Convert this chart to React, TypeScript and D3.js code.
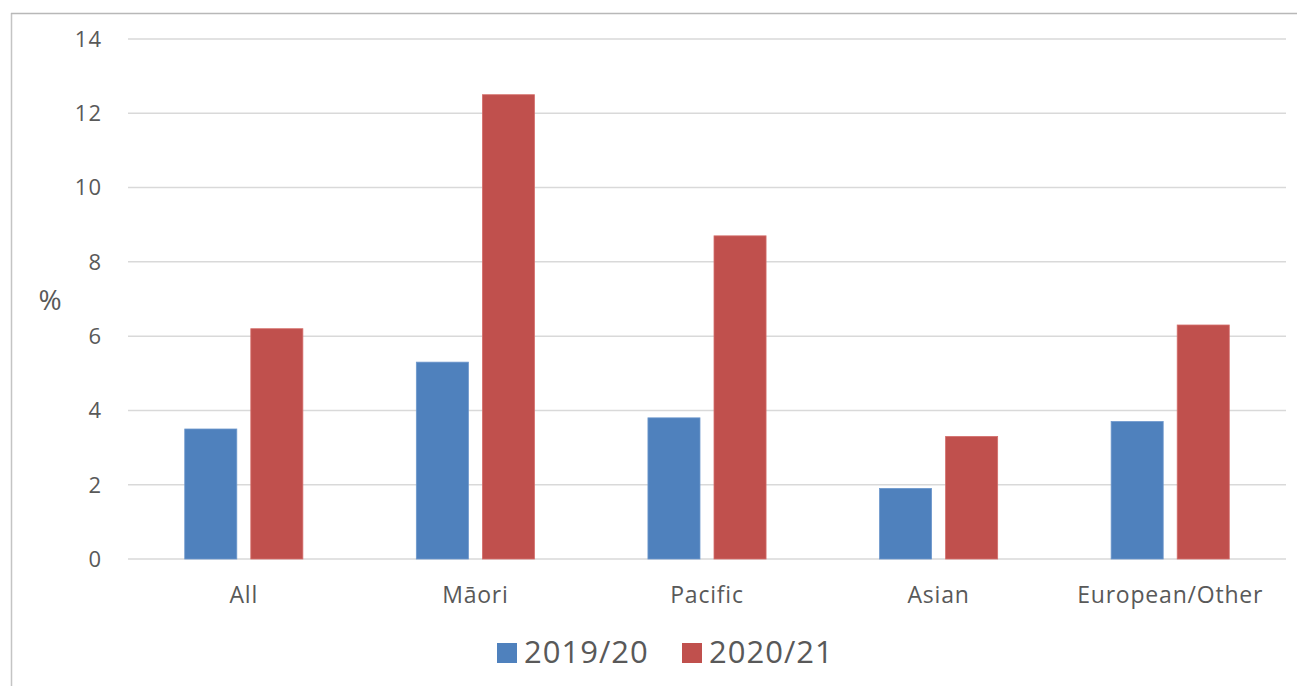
import React from "react";
import * as d3 from "d3";

const categories = ["All", "Māori", "Pacific", "Asian", "European/Other"];
const seriesNames = ["2019/20", "2020/21"];
const values2019 = [3.5, 5.3, 3.8, 1.9, 3.7];
const values2020 = [6.2, 12.5, 8.7, 3.3, 6.3];
const yTicks = [0, 2, 4, 6, 8, 10, 12, 14];
const colors = ["#4f81bd", "#c0504d"];

const W = 1297;
const H = 686;
const left = 128;
const right = 1286;
const top = 39;
const bottom = 559;
const font = "'Open Sans', 'Liberation Sans', sans-serif";

export default function App() {
  const y = d3.scaleLinear().domain([0, 14]).range([bottom, top]);
  const x0 = d3
    .scaleBand<string>()
    .domain(categories)
    .range([left, right])
    .paddingInner(0.49)
    .paddingOuter(0.245);
  const x1 = d3
    .scaleBand<string>()
    .domain(seriesNames)
    .range([0, x0.bandwidth()])
    .paddingInner(0.212);
  const series = [values2019, values2020];

  return (
    <svg
      width={W}
      height={H}
      style={{ position: "absolute", left: 0, top: 0, background: "#fff" }}
      fontFamily={font}
    >
      <rect x={0} y={0} width={W} height={H} fill="#fff" />
      <line x1={11.5} x2={11.5} y1={13} y2={H} stroke="#c4c4c4" strokeWidth={1.5} />
      <line x1={11} x2={W} y1={13.5} y2={13.5} stroke="#b8b8b8" strokeWidth={1.5} />
      {yTicks.map((t) => (
        <g key={t}>
          <line
            x1={left}
            x2={right}
            y1={y(t)}
            y2={y(t)}
            stroke="#d9d9d9"
            strokeWidth={1.5}
          />
          <text
            x={102}
            y={y(t)}
            dy="0.36em"
            textAnchor="end"
            fontSize={22}
            letterSpacing={1}
            fill="#595959"
          >
            {t}
          </text>
        </g>
      ))}
      <text x={50} y={300} dy="0.36em" textAnchor="middle" fontSize={28} fill="#595959">
        %
      </text>
      {categories.map((c, i) => (
        <g key={c} transform={`translate(${x0(c)},0)`}>
          {seriesNames.map((s, j) => (
            <rect
              key={s}
              x={x1(s)}
              y={y(series[j][i])}
              width={x1.bandwidth()}
              height={y(0) - y(series[j][i])}
              fill={colors[j]}
              stroke={j === 0 ? "#6d97cc" : "#d46e6b"}
              strokeWidth={0.8}
            />
          ))}
          <text
            x={x0.bandwidth() / 2}
            y={595}
            dy="0.36em"
            textAnchor="middle"
            fontSize={23}
            letterSpacing={0.8}
            fill="#595959"
          >
            {c}
          </text>
        </g>
      ))}
      {seriesNames.map((s, j) => (
        <g key={s} transform={`translate(${497 + j * 185},0)`}>
          <rect x={0} y={643} width={20} height={20} fill={colors[j]} />
          <text x={27} y={652} dy="0.36em" fontSize={31} letterSpacing={1} fill="#595959">
            {s}
          </text>
        </g>
      ))}
    </svg>
  );
}
